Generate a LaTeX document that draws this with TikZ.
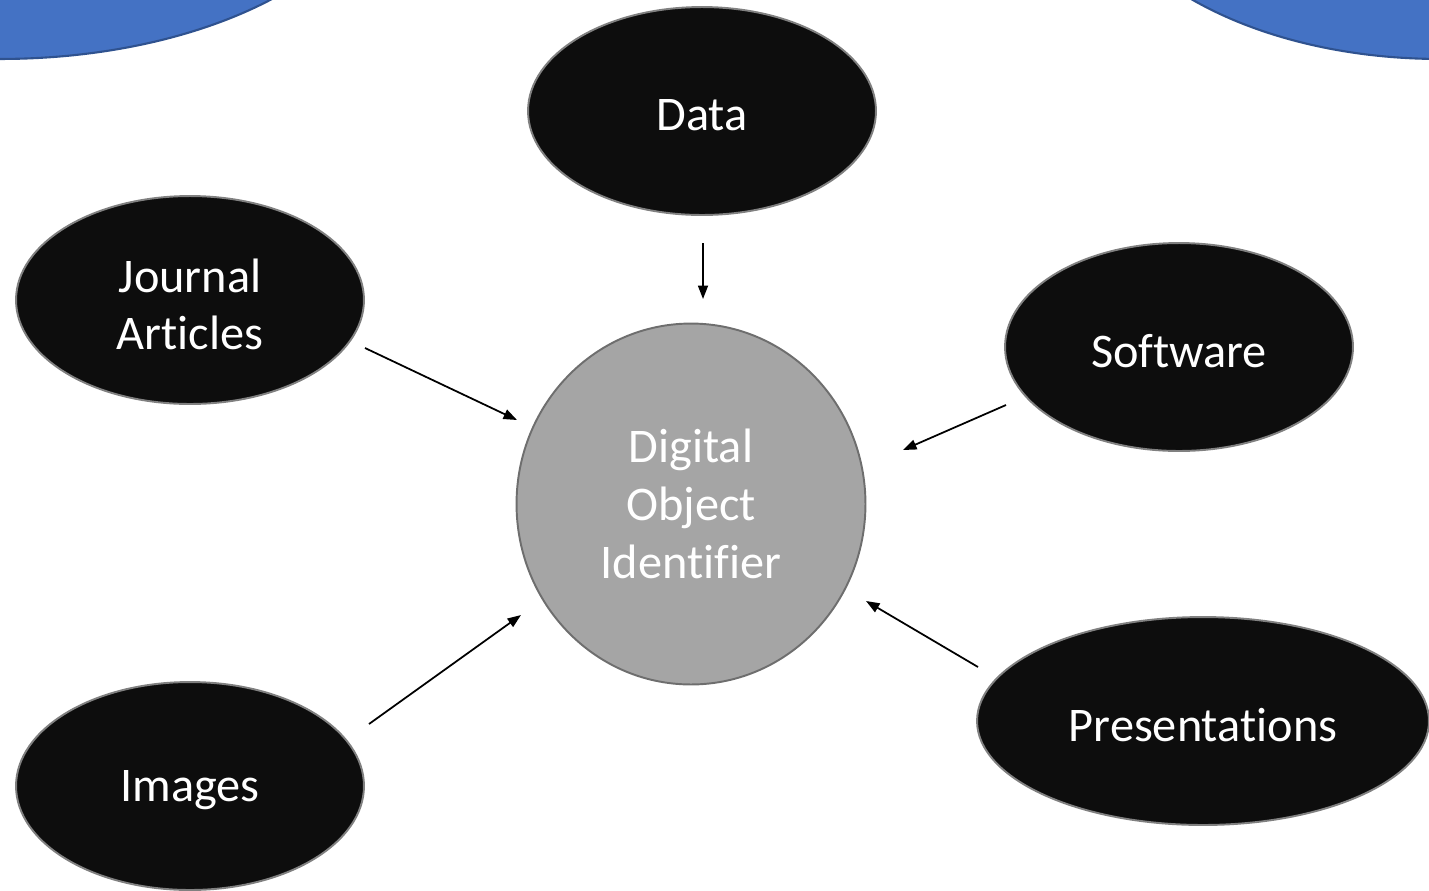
\documentclass[tikz,border=0pt]{standalone}
\usepackage{fontspec}
\setmainfont{Carlito}[Ligatures={NoCommon,NoContextual}]
\usetikzlibrary{shapes.geometric,arrows.meta}
\definecolor{blobblue}{HTML}{4472C4}
\definecolor{blobedge}{HTML}{2F528F}
\definecolor{darkfill}{HTML}{0D0D0D}
\definecolor{rimgray}{HTML}{808080}
\definecolor{doifill}{HTML}{A5A5A5}
\definecolor{doiedge}{HTML}{6E6E6E}
% lower a one-line label a little without moving its node
\newcommand{\droplabel}[1]{\raisebox{-2.5pt}[\height][\depth]{#1}}
\tikzset{
  item/.style={ellipse, fill=darkfill, draw=rimgray, line width=1.1pt,
    minimum width=6.96cm, minimum height=4.16cm, inner sep=0pt,
    text=white, align=center, font=\fontsize{27.5}{32}\selectfont},
  hub/.style={ellipse, fill=doifill, draw=doiedge, line width=1.1pt,
    minimum width=6.98cm, minimum height=7.22cm, inner sep=0pt,
    text=white, align=center, font=\fontsize{27.5}{33}\selectfont},
  feed/.style={line width=1pt, -{Triangle[length=0.27cm,width=0.2cm]}},
  blob/.style={fill=blobblue, draw=blobedge, line width=1.2pt}
}
\begin{document}
\begin{tikzpicture}[x=0.02cm,y=-0.02cm]
  \useasboundingbox (0,0) rectangle (1429,890);
  \begin{scope}
    \clip (0,0) rectangle (1429,890);
    % blue corner shapes
    \draw[blob] (0,-150) ellipse [x radius=7.76cm, y radius=4.18cm];
    \draw[blob] (1440,-150) ellipse [x radius=7.1cm, y radius=4.18cm];
    % outer items
    \node[item] (data) at (702,111) {\droplabel{Data}};
    \node[item] (journal) at (190,300) {\droplabel{Journal}\\\droplabel{Articles}};
    \node[item] (software) at (1179,347) {\droplabel{Software}};
    \node[item, minimum width=9.04cm] (present) at (1203,721) {\droplabel{Presentations}};
    \node[item] (images) at (190,786) {\droplabel{Images}};
    % central identifier
    \node[hub] (doi) at (691,504) {Digital\\Object\\Identifier};
  \end{scope}
  % arrow end points
  \coordinate (dataA) at (703,243);   \coordinate (dataB) at (703,299);
  \coordinate (jourA) at (365,348);   \coordinate (jourB) at (517,420);
  \coordinate (softA) at (1006,405);  \coordinate (softB) at (903,450);
  \coordinate (presA) at (978,667);   \coordinate (presB) at (866,601);
  \coordinate (imgA) at (369,724);    \coordinate (imgB) at (521,615);
  \draw[feed] (dataA) -- (dataB);
  \draw[feed] (jourA) -- (jourB);
  \draw[feed] (softA) -- (softB);
  \draw[feed] (presA) -- (presB);
  \draw[feed] (imgA) -- (imgB);
\end{tikzpicture}
\end{document}
